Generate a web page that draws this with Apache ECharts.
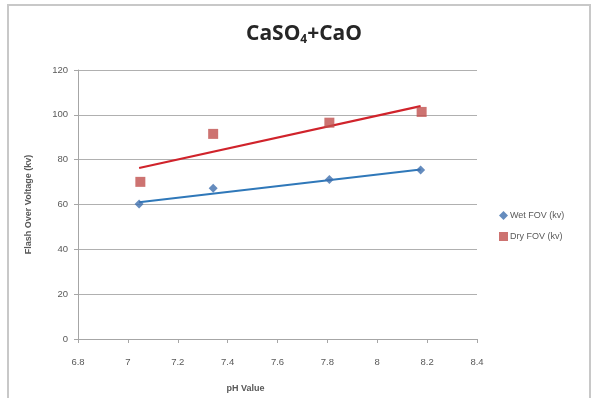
<!DOCTYPE html>
<html>
<head>
<meta charset="utf-8">
<script src="https://cdn.jsdelivr.net/npm/echarts@6/dist/echarts.min.js"></script>
<style>html,body{margin:0;padding:0;background:#fff}#c{width:592px;height:398px}</style>
</head>
<body>
<div id="c"></div>
<script>
// Data
const wetPH = [7.045, 7.342, 7.808, 8.174];
const wetFOV = [60.2, 67.3, 71.2, 75.4];
const dryPH = [7.05, 7.342, 7.808, 8.178];
const dryFOV = [70.1, 91.5, 96.5, 101.3];
// trendline end points
const wetTrendX = [7.045, 8.174];
const wetTrendY = [61.0, 75.6];
const dryTrendX = [7.045, 8.174];
const dryTrendY = [76.3, 103.9];
const xTicks = [6.8, 7, 7.2, 7.4, 7.6, 7.8, 8, 8.2, 8.4];
const yTicks = [0, 20, 40, 60, 80, 100, 120];

const pair = (xs, ys) => xs.map((x, i) => [x, ys[i]]);

const chart = echarts.init(document.getElementById('c'), null, {renderer: 'canvas'});
const labelColor = '#595959';
const font = '"Liberation Sans", Arial, sans-serif';
chart.setOption({
  animation: false,
  backgroundColor: '#fff',
  title: {
    text: '{a|CaSO}{s|4}{a|+CaO}',
    left: 299, top: 16, textAlign: 'center',
    textStyle: {
      rich: {
        a: {fontFamily: '"Open Sans", Calibri, sans-serif', fontWeight: 'bold', fontSize: 21, color: '#262626', lineHeight: 26},
        s: {fontFamily: '"Open Sans", Calibri, sans-serif', fontWeight: 'bold', fontSize: 12, color: '#262626', lineHeight: 26, padding: [12, 0, 0, 0]}
      }
    }
  },
  graphic: [{
    type: 'rect', shape: {x: 8, y: 5, width: 582, height: 400},
    style: {fill: 'none', stroke: '#c8c8c8', lineWidth: 2}, silent: true
  }],
  grid: {left: 78, right: 115, top: 70, bottom: 57},
  legend: {
    orient: 'vertical', left: 494, top: 206, itemGap: 12,
    itemWidth: 9, itemHeight: 9,
    textStyle: {fontFamily: font, fontSize: 9, color: labelColor, padding: [0, 0, 0, -3]},
    data: [
      {name: 'Wet FOV (kv)', icon: 'diamond', itemStyle: {color: '#3f6fae'}},
      {name: 'Dry FOV (kv)', icon: 'rect', itemStyle: {color: '#c0504d'}}
    ]
  },
  xAxis: {
    type: 'value', min: 6.8, max: 8.4, interval: 0.2,
    name: 'pH Value', nameLocation: 'middle', nameGap: 45,
    nameTextStyle: {fontFamily: font, fontWeight: 'bold', fontSize: 9, color: labelColor, padding: [0, 64, 0, 0]},
    axisLine: {lineStyle: {color: '#a6a6a6'}},
    axisTick: {show: true, inside: false, length: 4, lineStyle: {color: '#a6a6a6'}},
    axisLabel: {fontFamily: font, fontSize: 9.5, color: labelColor, margin: 18,
      formatter: v => { const t = xTicks.find(k => Math.abs(k - v) < 1e-6); return t === undefined ? '' : String(t); }},
    splitLine: {show: false}
  },
  yAxis: {
    type: 'value', min: 0, max: 120, interval: 20,
    name: 'Flash Over Voltage (kv)', nameLocation: 'middle', nameGap: 45, nameRotate: 90,
    nameTextStyle: {fontFamily: font, fontWeight: 'bold', fontSize: 9, color: labelColor},
    axisLine: {show: true, lineStyle: {color: '#a6a6a6'}},
    axisTick: {show: true, length: 4, lineStyle: {color: '#a6a6a6'}},
    axisLabel: {fontFamily: font, fontSize: 9.5, color: labelColor, margin: 10,
      formatter: v => { const t = yTicks.find(k => Math.abs(k - v) < 1e-6); return t === undefined ? '' : String(t); }},
    splitLine: {lineStyle: {color: '#b0b0b0', width: 1}}
  },
  series: [
    {name: 'Wet trend', type: 'line', data: pair(wetTrendX, wetTrendY), symbol: 'none',
     lineStyle: {color: '#2f78b9', width: 2.2}, z: 2, silent: true},
    {name: 'Dry trend', type: 'line', data: pair(dryTrendX, dryTrendY), symbol: 'none',
     lineStyle: {color: '#d0232b', width: 2.2}, z: 2, silent: true},
    {name: 'Wet FOV (kv)', type: 'scatter', data: pair(wetPH, wetFOV), symbol: 'diamond', symbolSize: 9,
     itemStyle: {color: '#3f6fae'}, z: 3},
    {name: 'Dry FOV (kv)', type: 'scatter', data: pair(dryPH, dryFOV), symbol: 'rect', symbolSize: 10,
     itemStyle: {color: '#c0504d'}, z: 3}
  ]
});
</script>
</body>
</html>
